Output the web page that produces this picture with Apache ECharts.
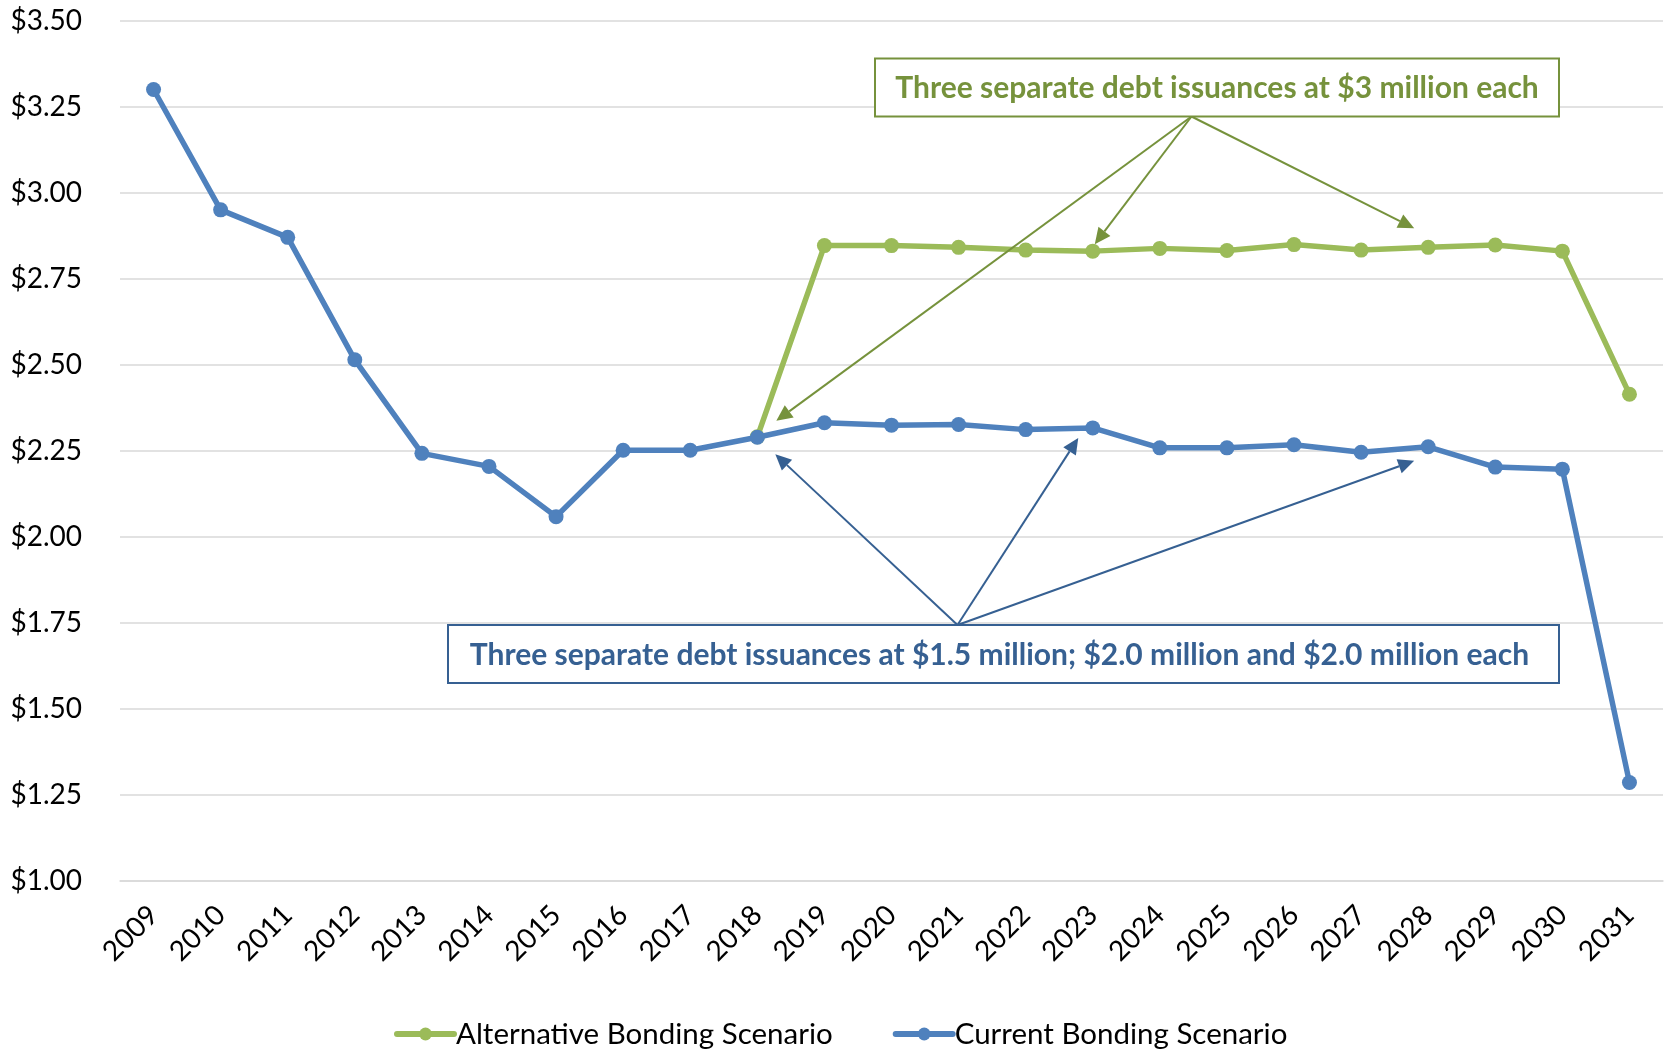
<!DOCTYPE html>
<html>
<head>
<meta charset="utf-8">
<title>Bonding Scenarios</title>
<script src="https://cdn.jsdelivr.net/npm/echarts@6/dist/echarts.min.js"></script>
<style>
  html, body { margin: 0; padding: 0; background: #fff; }
  #chart { width: 1665px; height: 1052px; }
</style>
</head>
<body>
<div id="chart"></div>
<script>
// Fiscal years on the category axis
const years = ['2009','2010','2011','2012','2013','2014','2015','2016','2017','2018','2019','2020',
               '2021','2022','2023','2024','2025','2026','2027','2028','2029','2030','2031'];

// Alternative scenario only diverges from 2018 onward
const alternativeBonding = [null, null, null, null, null, null, null, null, null,
  2.29, 2.846, 2.846, 2.841, 2.833, 2.830, 2.838, 2.832, 2.849, 2.833, 2.841, 2.848, 2.830, 2.414];

const currentBonding = [3.30, 2.95, 2.87, 2.514, 2.242, 2.204, 2.058, 2.251, 2.251,
  2.289, 2.331, 2.324, 2.326, 2.311, 2.316, 2.258, 2.258, 2.267, 2.245, 2.261, 2.202, 2.196, 1.285];

const seriesNames = ['Alternative Bonding Scenario', 'Current Bonding Scenario'];

const greenNote = 'Three separate debt issuances at $3 million each';
const blueNote = 'Three separate debt issuances at $1.5 million; $2.0 million and $2.0 million each';

// The years each callout points at
const greenTargets = ['2018', '2023', '2028'];
const blueTargets = ['2018', '2023', '2028'];

const GREEN = '#9BBB59', BLUE = '#4F81BD';
const GREEN_DARK = '#76923C', BLUE_DARK = '#366092';
const FONT = 'Lato';

const chart = echarts.init(document.getElementById('chart'), null, { renderer: 'canvas' });

chart.setOption({
  animation: false,
  backgroundColor: '#ffffff',
  textStyle: { fontFamily: FONT },
  grid: { left: 120, right: 2, top: 20.7, bottom: 171.5, containLabel: false },
  xAxis: {
    type: 'category',
    data: years,
    boundaryGap: true,
    axisLine: { lineStyle: { color: '#D9D9D9', width: 1.5 } },
    axisTick: { show: false },
    axisLabel: { rotate: 45, margin: 30, fontSize: 28, color: '#000', fontFamily: FONT, interval: 0 }
  },
  yAxis: {
    type: 'value',
    min: 1,
    max: 3.5,
    interval: 0.25,
    axisLine: { show: false },
    axisTick: { show: false },
    splitLine: { lineStyle: { color: '#D9D9D9', width: 1.5 } },
    axisLabel: {
      margin: 38, fontSize: 28, color: '#000', fontFamily: FONT,
      formatter: v => '$' + v.toFixed(2)
    }
  },
  legend: {
    left: 389,
    top: 1014,
    itemWidth: 57,
    itemHeight: 16,
    itemGap: 60,
    lineStyle: { width: 6, cap: 'round' },
    textStyle: { fontSize: 29.5, color: '#000', fontFamily: FONT, padding: [0, 0, 0, -3] },
    data: seriesNames
  },
  series: [
    {
      name: seriesNames[0],
      type: 'line',
      data: alternativeBonding,
      color: GREEN,
      symbol: 'circle',
      symbolSize: 15,
      lineStyle: { width: 5.5, color: GREEN },
      itemStyle: { color: GREEN },
      z: 2
    },
    {
      name: seriesNames[1],
      type: 'line',
      data: currentBonding,
      color: BLUE,
      symbol: 'circle',
      symbolSize: 15,
      lineStyle: { width: 5.5, color: BLUE },
      itemStyle: { color: BLUE },
      z: 3
    }
  ]
});

// Callout boxes with arrows pointing at the issuance years
function arrow(from, to, color) {
  const dx = to[0] - from[0], dy = to[1] - from[1];
  const len = Math.sqrt(dx * dx + dy * dy);
  const ux = dx / len, uy = dy / len;
  const headLen = 16, headHalf = 7.5;
  const bx = to[0] - ux * headLen, by = to[1] - uy * headLen;
  return [
    { type: 'line', z: 100, silent: true,
      shape: { x1: from[0], y1: from[1], x2: bx, y2: by },
      style: { stroke: color, lineWidth: 2 } },
    { type: 'polygon', z: 100, silent: true,
      shape: { points: [to, [bx - uy * headHalf, by + ux * headHalf], [bx + uy * headHalf, by - ux * headHalf]] },
      style: { fill: color } }
  ];
}

function pointOf(seriesIdx, year) {
  const i = years.indexOf(year);
  const v = seriesIdx === 0 ? alternativeBonding[i] : currentBonding[i];
  return chart.convertToPixel({ seriesIndex: seriesIdx }, [i, v]);
}

// arrowheads sit just off the markers they point to
const greenOffsets = [[19, -16], [2, -7], [-14, -19]];
const blueOffsets = [[18, 17], [-14.5, 10], [-14, 14]];

const greenBox = { x: 875, y: 58.5, width: 684, height: 58 };
const blueBox = { x: 448, y: 625, width: 1111, height: 58 };
const greenOrigin = [1191.5, greenBox.y + greenBox.height];
const blueOrigin = [957.5, blueBox.y];

const graphics = [];
greenTargets.forEach((yr, k) => {
  const p = pointOf(0, yr);
  graphics.push(...arrow(greenOrigin, [p[0] + greenOffsets[k][0], p[1] + greenOffsets[k][1]], GREEN_DARK));
});
blueTargets.forEach((yr, k) => {
  const p = pointOf(1, yr);
  graphics.push(...arrow(blueOrigin, [p[0] + blueOffsets[k][0], p[1] + blueOffsets[k][1]], BLUE_DARK));
});

graphics.push(
  { type: 'rect', z: 110, silent: true, shape: greenBox,
    style: { fill: '#fff', stroke: GREEN_DARK, lineWidth: 2 } },
  { type: 'text', z: 111, silent: true,
    x: greenBox.x + greenBox.width / 2, y: greenBox.y + greenBox.height / 2 + 1,
    style: { text: greenNote, fill: GREEN_DARK, font: 'bold 30px ' + FONT, align: 'center', verticalAlign: 'middle' } },
  { type: 'rect', z: 110, silent: true, shape: blueBox,
    style: { fill: '#fff', stroke: BLUE_DARK, lineWidth: 2 } },
  { type: 'text', z: 111, silent: true,
    x: blueBox.x + blueBox.width / 2 - 4, y: blueBox.y + blueBox.height / 2 + 1,
    style: { text: blueNote, fill: BLUE_DARK, font: 'bold 30px ' + FONT, align: 'center', verticalAlign: 'middle' } }
);

chart.setOption({ graphic: graphics });
</script>
</body>
</html>
